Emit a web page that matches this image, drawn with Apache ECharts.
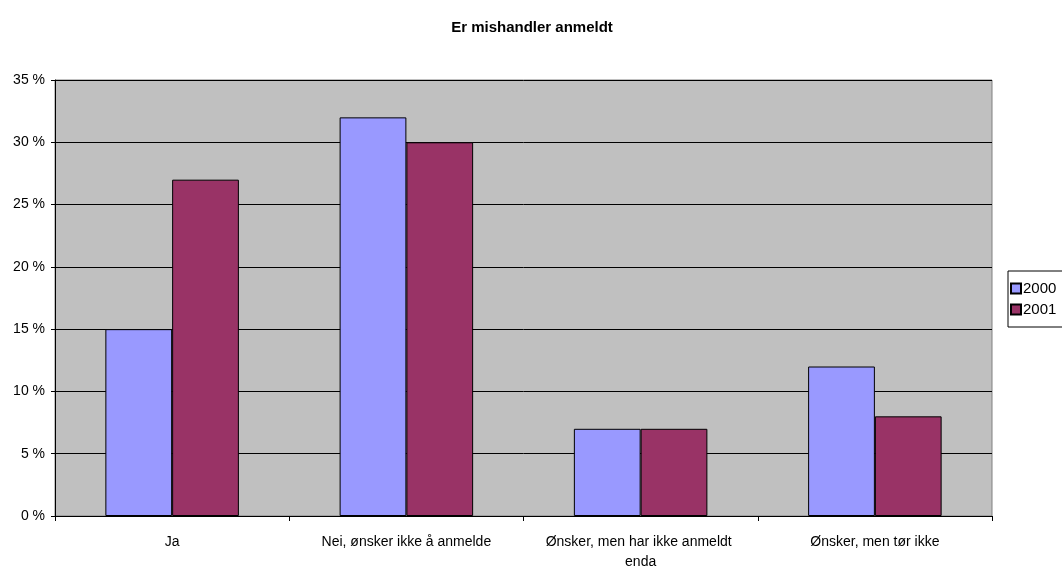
<!DOCTYPE html>
<html>
<head>
<meta charset="utf-8">
<script src="https://cdn.jsdelivr.net/npm/echarts@6/dist/echarts.min.js"></script>
<style>
  html, body { margin: 0; padding: 0; background: #fff; }
  #chart { width: 1062px; height: 566px; }
</style>
</head>
<body>
<div id="chart"></div>
<script>
  // kategorier og verdier (prosent)
  var categories = ['Ja', 'Nei, ønsker ikke å anmelde', 'Ønsker, men har ikke anmeldt enda', 'Ønsker, men tør ikke']
  var values2000 = [15, 32, 7, 12]
  var values2001 = [27, 30, 7, 8]
  var yTicks = [0, 5, 10, 15, 20, 25, 30, 35]

  var chart = echarts.init(document.getElementById('chart'))
  var font = 'Liberation Sans, Arial, sans-serif'
  var option = {
    animation: false,
    title: {
      text: 'Er mishandler anmeldt',
      left: 527,
      textAlign: 'center',
      top: 15,
      textStyle: { fontFamily: font, fontSize: 15, fontWeight: 'bold', color: '#000' }
    },
    legend: {
      orient: 'vertical',
      left: 1008,
      top: 271,
      padding: [10, 10, 10, 2],
      icon: 'rect',
      itemWidth: 10,
      itemHeight: 10,
      itemGap: 6,
      borderColor: '#000',
      borderWidth: 1,
      backgroundColor: '#fff',
      textStyle: { fontFamily: font, fontSize: 15, color: '#000', padding: [0, 0, 0, -3] },
      data: ['2000', '2001']
    },
    grid: {
      left: 55, right: 70, top: 80, bottom: 50,
      outerBoundsMode: 'none',
      containLabel: false,
      show: true,
      backgroundColor: '#c0c0c0',
      borderColor: '#808080',
      borderWidth: 1
    },
    xAxis: {
      type: 'category',
      data: categories,
      axisLine: { lineStyle: { color: '#000', width: 1 } },
      axisTick: { show: true, length: 5, lineStyle: { color: '#000' } },
      axisLabel: {
        fontFamily: font, fontSize: 14, color: '#000', margin: 16,
        width: 200, overflow: 'break', lineHeight: 20, interval: 0
      }
    },
    yAxis: {
      type: 'value',
      min: yTicks[0],
      max: yTicks[yTicks.length - 1],
      interval: 5,
      axisLine: { show: true, lineStyle: { color: '#000' } },
      axisTick: { show: true, length: 4, lineStyle: { color: '#000' } },
      splitLine: { lineStyle: { color: '#000', width: 1 } },
      axisLabel: {
        fontFamily: font, fontSize: 14, color: '#000', margin: 10,
        formatter: function (v) { return v + ' %' }
      }
    },
    series: [
      {
        name: '2000',
        type: 'bar',
        data: values2000,
        barGap: '0%',
        barCategoryGap: '43%',
        itemStyle: { color: '#9999ff', borderColor: '#000', borderWidth: 1 }
      },
      {
        name: '2001',
        type: 'bar',
        data: values2001,
        itemStyle: { color: '#993366', borderColor: '#000', borderWidth: 1 }
      }
    ]
  }
  chart.setOption(option)
</script>
</body>
</html>
